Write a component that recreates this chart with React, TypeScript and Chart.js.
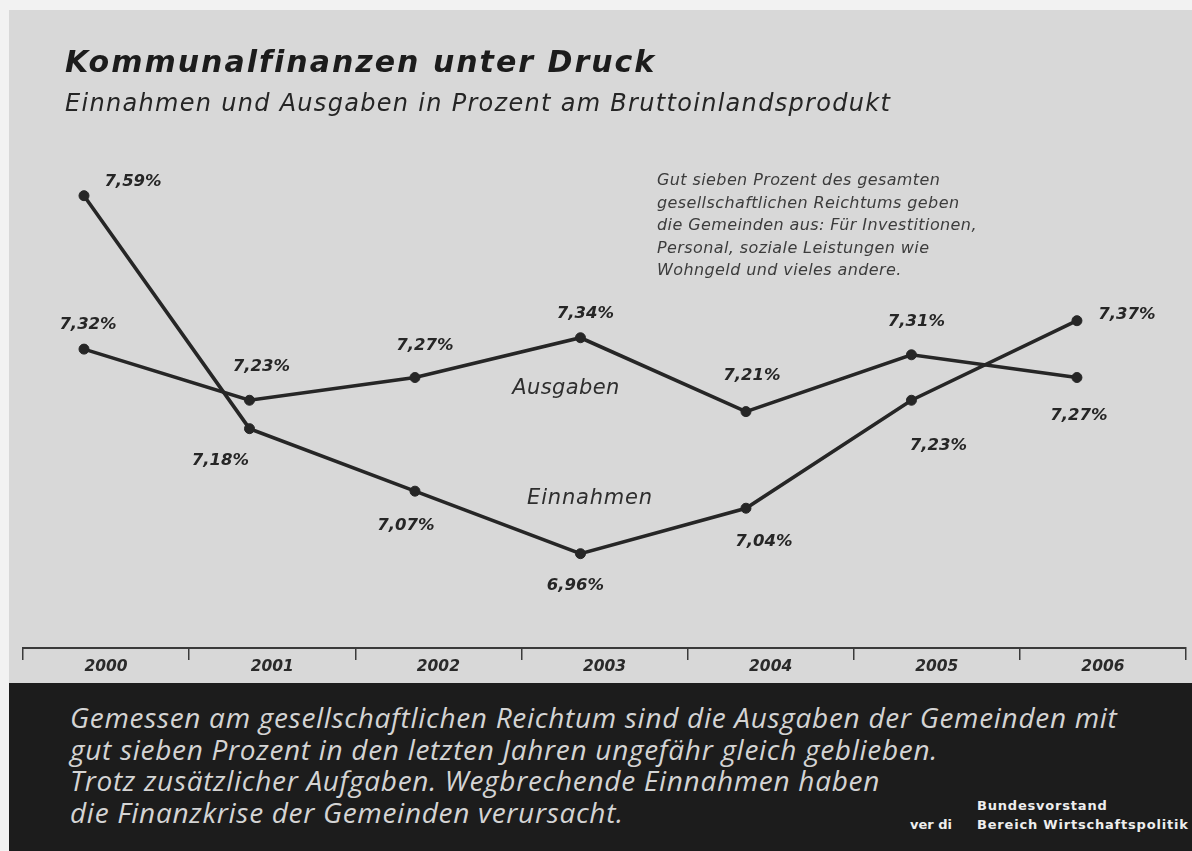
import React, { useEffect, useRef } from "react";
import { Chart, registerables } from "chart.js";

Chart.register(...registerables);

// ---- data ----
const years = ["2000", "2001", "2002", "2003", "2004", "2005", "2006"];
const einnahmen = [7.59, 7.18, 7.07, 6.96, 7.04, 7.23, 7.37];
const ausgaben = [7.32, 7.23, 7.27, 7.34, 7.21, 7.31, 7.27];

const titleText = "Kommunalfinanzen unter Druck";
const subtitleText = "Einnahmen und Ausgaben in Prozent am Bruttoinlandsprodukt";
const noteLines = [
  "Gut sieben Prozent des gesamten",
  "gesellschaftlichen Reichtums geben",
  "die Gemeinden aus: Für Investitionen,",
  "Personal, soziale Leistungen wie",
  "Wohngeld und vieles andere.",
];
const footerLines = [
  "Gemessen am gesellschaftlichen Reichtum sind die Ausgaben der Gemeinden mit",
  "gut sieben Prozent in den letzten Jahren ungefähr gleich geblieben.",
  "Trotz zusätzlicher Aufgaben. Wegbrechende Einnahmen haben",
  "die Finanzkrise der Gemeinden verursacht.",
];

// ---- label placement (style, not data) ----
const einOffsets = [[49, -14], [-29, 32], [-9, 35], [-5, 32], [18, 34], [27, 45], [50, -6]];
const ausOffsets = [[4, -24], [12, -34], [10, -32], [5, -24], [6, -36], [5, -33], [2, 38]];

const fmt = (v: number) => v.toFixed(2).replace(".", ",") + "%";
const WIDE = '"DejaVu Sans", Verdana, sans-serif';
const SANS = '"Open Sans", "Noto Sans", sans-serif';

const valueLabels = {
  id: "valueLabels",
  afterDatasetsDraw(chart: any) {
    const ctx = chart.ctx;
    ctx.save();
    ctx.font = `italic bold 16.5px ${WIDE}`;
    ctx.fillStyle = "#262626";
    ctx.textAlign = "center";
    ctx.textBaseline = "middle";
    chart.data.datasets.forEach((ds: any, di: number) => {
      const meta = chart.getDatasetMeta(di);
      const offs = di === 0 ? einOffsets : ausOffsets;
      const values = di === 0 ? einnahmen : ausgaben;
      meta.data.forEach((pt: any, i: number) => {
        ctx.fillText(fmt(values[i]), pt.x + offs[i][0], pt.y + offs[i][1]);
      });
    });
    ctx.restore();
  },
};

export default function App() {
  const ref = useRef<HTMLCanvasElement | null>(null);

  useEffect(() => {
    if (!ref.current) return;
    const lineColor = "#262626";
    const ds = (label: string, values: number[]) => ({
      label,
      data: values.map((v, i) => ({ x: i, y: v })),
      xAxisID: "xd",
      yAxisID: "y",
      borderColor: lineColor,
      borderWidth: 3.6,
      pointRadius: 5,
      pointBackgroundColor: lineColor,
      pointBorderColor: lineColor,
      pointBorderWidth: 1,
      tension: 0,
      fill: false,
    });
    const chart = new Chart(ref.current, {
      type: "line",
      data: {
        labels: years,
        datasets: [ds("Einnahmen", einnahmen), ds("Ausgaben", ausgaben)],
      },
      options: {
        responsive: false,
        animation: false,
        layout: { padding: { left: 23, right: 6, top: 140, bottom: 0 } },
        plugins: {
          legend: { display: false },
          tooltip: { enabled: false },
          title: { display: false },
        },
        scales: {
          xd: { type: "linear", display: false, min: -0.3686, max: 6.659 },
          x: {
            type: "category",
            position: "bottom",
            offset: true,
            grid: {
              offset: true,
              drawOnChartArea: false,
              drawTicks: true,
              tickLength: 12,
              color: "#3a3a3a",
              lineWidth: 1.5,
            },
            border: { display: true, color: "#3a3a3a", width: 2 },
            ticks: {
              color: "#2a2a2a",
              font: { family: WIDE, size: 15.5, style: "italic", weight: "bold" },
              padding: -2,
              maxRotation: 0,
              autoSkip: false,
            },
            afterFit: (s: any) => {
              s.height = 34;
            },
          },
          y: { type: "linear", display: false, min: 6.794, max: 7.688 },
        },
      } as any,
      plugins: [valueLabels as any],
    });
    return () => chart.destroy();
  }, []);

  const abs = (o: any) => ({ position: "absolute", whiteSpace: "nowrap", ...o });

  return (
    <div
      style={{
        position: "fixed",
        left: 0,
        top: 0,
        width: 1192,
        height: 851,
        overflow: "hidden",
        background: "#f2f2f2",
        fontFamily: WIDE,
      }}
    >
      <div style={abs({ left: 9, top: 10, right: 0, bottom: 0, background: "#d8d8d8" })} />
      <canvas ref={ref} width={1192} height={682} style={abs({ left: 0, top: 0, width: 1192, height: 682 })} />

      <div style={abs({ left: 65, top: 42, fontSize: 30, fontWeight: 700, fontStyle: "italic", color: "#1c1c1c", lineHeight: "40px", letterSpacing: 2.0 })}>
        {titleText}
      </div>
      <div style={abs({ left: 65, top: 87, fontSize: 24, fontStyle: "italic", color: "#252525", lineHeight: "32px", letterSpacing: 1.3 })}>
        {subtitleText}
      </div>

      {noteLines.map((t, i) => (
        <div
          key={i}
          style={abs({ left: 657, top: 169 + i * 22.5, fontSize: 16, fontStyle: "italic", color: "#3c3c3c", lineHeight: "22px", letterSpacing: 0.4 })}
        >
          {t}
        </div>
      ))}

      <div style={abs({ left: 566, top: 387, transform: "translate(-50%,-50%)", fontSize: 21, fontStyle: "italic", color: "#2e2e2e", letterSpacing: 0.4 })}>Ausgaben</div>
      <div style={abs({ left: 590, top: 497, transform: "translate(-50%,-50%)", fontSize: 21, fontStyle: "italic", color: "#2e2e2e", letterSpacing: 0.8 })}>Einnahmen</div>

      <div style={abs({ left: 9, top: 683, right: 0, bottom: 0, background: "#1c1c1c" })} />
      {footerLines.map((t, i) => (
        <div
          key={i}
          style={abs({ left: 70, top: 699 + i * 31.7, fontSize: 28, fontFamily: SANS, fontStyle: "italic", color: "#d4d4d4", lineHeight: "36px", letterSpacing: 0.7 })}
        >
          {t}
        </div>
      ))}
      <div style={abs({ left: 977, top: 797, fontSize: 13, fontWeight: 700, color: "#eeeeee", lineHeight: "18px", letterSpacing: 0.8 })}>Bundesvorstand</div>
      <div style={abs({ left: 910, top: 816, fontSize: 13, fontWeight: 700, color: "#eeeeee", lineHeight: "18px" })}>ver di</div>
      <div style={abs({ left: 977, top: 816, fontSize: 13, fontWeight: 700, color: "#eeeeee", lineHeight: "18px", letterSpacing: 0.8 })}>Bereich Wirtschaftspolitik</div>
    </div>
  );
}
